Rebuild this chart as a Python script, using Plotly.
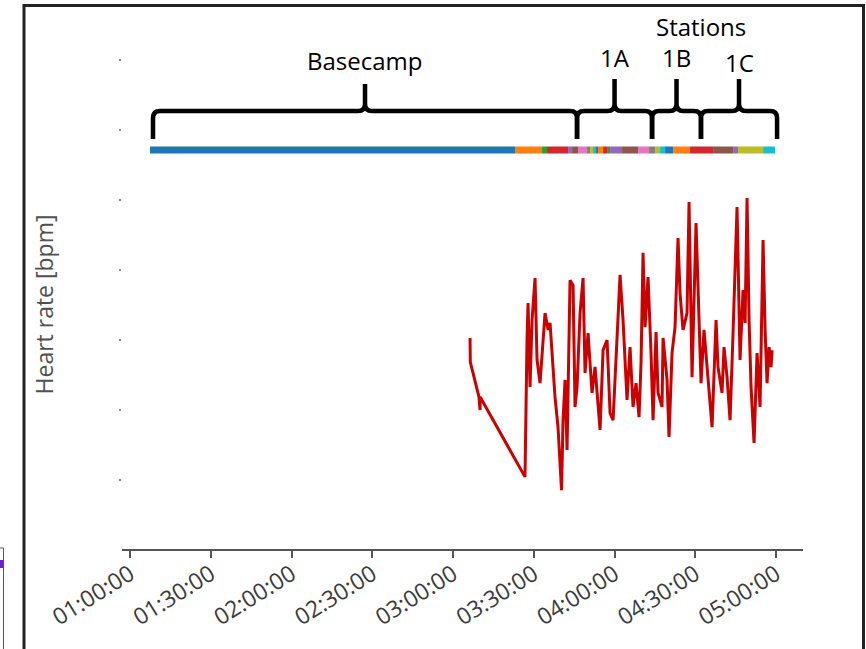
import plotly.graph_objects as go
import pandas as pd

DAY = "2021-01-01 "

# ---------------- data ----------------
hr_times = [
    "03:06:19", "03:06:25", "03:09:39", "03:10:02", "03:10:05", "03:26:44",
    "03:27:29", "03:27:52", "03:28:36", "03:29:21", "03:30:28", "03:31:12",
    "03:32:19", "03:34:11", "03:35:18", "03:36:02", "03:37:53", "03:39:00",
    "03:40:18", "03:40:52", "03:41:37", "03:42:21", "03:43:28", "03:44:35",
    "03:45:19", "03:46:04", "03:47:11", "03:48:18", "03:49:02", "03:50:09",
    "03:51:38", "03:52:45", "03:54:37", "03:55:44", "03:57:13", "03:58:20",
    "03:59:27", "04:00:56", "04:02:03", "04:03:09", "04:04:38", "04:05:45",
    "04:06:52", "04:07:59", "04:09:06", "04:09:50", "04:10:35", "04:11:20",
    "04:12:26", "04:13:33", "04:14:18", "04:15:25", "04:16:09", "04:17:38",
    "04:18:01", "04:19:30", "04:20:14", "04:21:21", "04:22:28", "04:23:35",
    "04:24:19", "04:25:26", "04:26:55", "04:27:40", "04:28:47", "04:30:16",
    "04:31:00", "04:32:07", "04:33:14", "04:34:21", "04:35:28", "04:36:13",
    "04:37:42", "04:38:26", "04:39:55", "04:40:40", "04:41:47", "04:42:54",
    "04:44:01", "04:45:30", "04:46:37", "04:47:44", "04:48:29", "04:49:13",
    "04:49:58", "04:50:42", "04:51:49", "04:52:56", "04:54:03", "04:54:25",
    "04:55:10", "04:55:55", "04:56:39", "04:57:24", "04:58:08", "04:58:31",
]
hr_bpm = [
    100.6, 93.7, 83.7, 80.0, 83.7, 60.9,
    100.0, 110.6, 86.6, 105.7, 117.7, 94.3,
    87.7, 107.7, 102.9, 104.9, 83.7, 75.1,
    57.1, 77.1, 88.6, 68.6, 117.1, 115.7,
    80.9, 86.6, 107.7, 117.7, 90.6, 102.0,
    84.9, 92.3, 74.3, 97.1, 100.0, 79.1,
    77.1, 99.1, 118.6, 105.7, 82.9, 98.0,
    80.9, 87.7, 78.0, 93.4, 124.9, 103.7,
    118.0, 96.3, 77.1, 102.3, 84.9, 80.9,
    100.6, 88.6, 72.3, 96.3, 103.7, 129.1,
    113.4, 102.9, 107.7, 139.4, 89.4, 133.4,
    117.1, 87.7, 102.9, 92.3, 83.7, 75.1,
    105.7, 92.3, 84.9, 98.0, 89.4, 77.1,
    102.0, 138.0, 94.3, 114.3, 104.9, 140.6,
    105.7, 86.6, 70.6, 96.3, 80.9, 98.0,
    128.6, 102.9, 87.7, 98.0, 92.3, 97.1,
]

# location segments (start times; the last one ends at seg_end)
seg_starts = [
    "01:07:26", "03:23:02", "03:33:04", "03:34:55", "03:42:44", "03:44:13",
    "03:46:26", "03:49:47", "03:50:54", "03:52:01", "03:53:08", "03:53:52",
    "03:55:44", "03:57:13", "03:58:20", "04:02:47", "04:08:44", "04:12:49",
    "04:15:03", "04:16:55", "04:18:46", "04:21:44", "04:28:03", "04:36:36",
    "04:44:02", "04:45:53", "04:55:11",
]
seg_end = "04:59:38"
seg_colors = [
    "#1f77b4", "#ff7f0e", "#2ca02c", "#d62728", "#9467bd", "#8c564b",
    "#e377c2", "#7f7f7f", "#bcbd22", "#17becf", "#1f77b4", "#ff7f0e",
    "#d62728", "#2ca02c", "#9467bd", "#8c564b", "#e377c2", "#7f7f7f",
    "#bcbd22", "#17becf", "#1f77b4", "#ff7f0e", "#d62728", "#8c564b",
    "#9467bd", "#bcbd22", "#17becf",
]

group_labels = ["Basecamp", "1A", "1B", "1C"]
group_bounds = ["01:08:33", "03:46:04", "04:13:56", "04:32:06", "05:00:22"]

x_tick_vals = ["01:00:00", "01:30:00", "02:00:00", "02:30:00", "03:00:00",
               "03:30:00", "04:00:00", "04:30:00", "05:00:00"]
y_tick_vals = [60, 80, 100, 120, 140, 160, 180]

X_RANGE = ["00:57:02", "05:10:00"]
Y_RANGE = [40.3, 180.0]

# ---------------- layout geometry ----------------
W, H = 866, 649
ML, MR, MT, MB = 122, 63, 60, 100
PW, PH = W - ML - MR, H - MT - MB


def ts(t):
    return pd.Timestamp(DAY + t)


def xp(t):
    r0, r1 = ts(X_RANGE[0]), ts(X_RANGE[1])
    return (ts(t) - r0) / (r1 - r0)


def yp(py):
    # pixel row -> paper fraction
    return (H - MB - py) / PH


def px_to_xp(dx):
    return dx / PW


fig = go.Figure()
fig.add_trace(go.Scatter(
    x=[DAY + t for t in hr_times], y=hr_bpm, mode="lines",
    line=dict(color="#cc0000", width=3), showlegend=False,
    hoverinfo="skip", cliponaxis=False,
))

shapes = []
# coloured location bar
ends = seg_starts[1:] + [seg_end]
for s, e, c in zip(seg_starts, ends, seg_colors):
    shapes.append(dict(type="rect", xref="x", yref="paper",
                       x0=DAY + s, x1=DAY + e, y0=yp(153.5), y1=yp(146.5),
                       fillcolor=c, line=dict(width=0), layer="above"))

# curly braces
annotations = []
for i, lab in enumerate(group_labels):
    a, b = xp(group_bounds[i]), xp(group_bounds[i + 1])
    m = (a + b) / 2
    rx = px_to_xp(7)
    yh = yp(111)
    yb = yp(139)
    ytip = yp(84 if i == 0 else 79)
    ry = 7 / PH
    path = (f"M {a},{yb} L {a},{yh - ry} Q {a},{yh} {a + rx},{yh} "
            f"L {m - rx},{yh} Q {m},{yh} {m},{yh + ry} L {m},{ytip} "
            f"M {m},{yh + ry} Q {m},{yh} {m + rx},{yh} "
            f"L {b - rx},{yh} Q {b},{yh} {b},{yh - ry} L {b},{yb}")
    shapes.append(dict(type="path", xref="paper", yref="paper", path=path,
                       line=dict(color="black", width=4.5)))
    label_y = {0: 60, 1: 57, 2: 57, 3: 62}[i]
    annotations.append(dict(x=m, y=yp(label_y), xref="paper", yref="paper",
                            text=lab, showarrow=False, xanchor="center",
                            yanchor="middle",
                            font=dict(family="Open Sans", size=24, color="black")))

annotations.append(dict(x=xp(group_bounds[3]), y=yp(27), xref="paper", yref="paper",
                        text="Stations", showarrow=False, xanchor="center",
                        yanchor="middle",
                        font=dict(family="Open Sans", size=24, color="black")))

# outer frame of the slide
shapes.append(dict(type="rect", xref="paper", yref="paper",
                   x0=(24 - ML) / PW, x1=(863.5 - ML) / PW,
                   y0=yp(700), y1=yp(5.5),
                   line=dict(color="#222222", width=3), fillcolor="rgba(0,0,0,0)"))
# sliver of neighbouring panel at far left
shapes.append(dict(type="rect", xref="paper", yref="paper",
                   x0=(-10 - ML) / PW, x1=(3.5 - ML) / PW,
                   y0=yp(700), y1=yp(548),
                   line=dict(color="#555555", width=1), fillcolor="rgba(0,0,0,0)"))
shapes.append(dict(type="rect", xref="paper", yref="paper",
                   x0=(-10 - ML) / PW, x1=(3 - ML) / PW,
                   y0=yp(568), y1=yp(560),
                   line=dict(width=0), fillcolor="#6a1fd0"))

fig.update_layout(
    width=W, height=H,
    margin=dict(l=ML, r=MR, t=MT, b=MB, pad=0, autoexpand=False),
    paper_bgcolor="white", plot_bgcolor="white",
    font=dict(family="Open Sans", color="#333333"),
    shapes=shapes, annotations=annotations,
    xaxis=dict(
        type="date", range=[DAY + X_RANGE[0], DAY + X_RANGE[1]],
        tickvals=[DAY + t for t in x_tick_vals], ticktext=x_tick_vals,
        tickangle=-32, tickfont=dict(size=23, color="#3a3a3a"),
        ticklabelstandoff=-6,
        showgrid=False, zeroline=False, automargin=False,
        showline=True, linecolor="#555555", linewidth=2,
        ticks="outside", ticklen=7, tickwidth=2, tickcolor="#555555",
    ),
    yaxis=dict(
        range=Y_RANGE, tickvals=y_tick_vals, showticklabels=False,
        showgrid=False, zeroline=False, showline=False, automargin=False,
        ticks="outside", ticklen=2, tickwidth=2, tickcolor="#888888",
        title=dict(text="Heart rate [bpm]", standoff=58,
                   font=dict(family="Open Sans", size=23, color="#505050")),
    ),
)

fig.write_html("out.html", config={"displayModeBar": False},
               post_script="document.body.style.margin='0px';document.body.style.overflow='hidden';")
